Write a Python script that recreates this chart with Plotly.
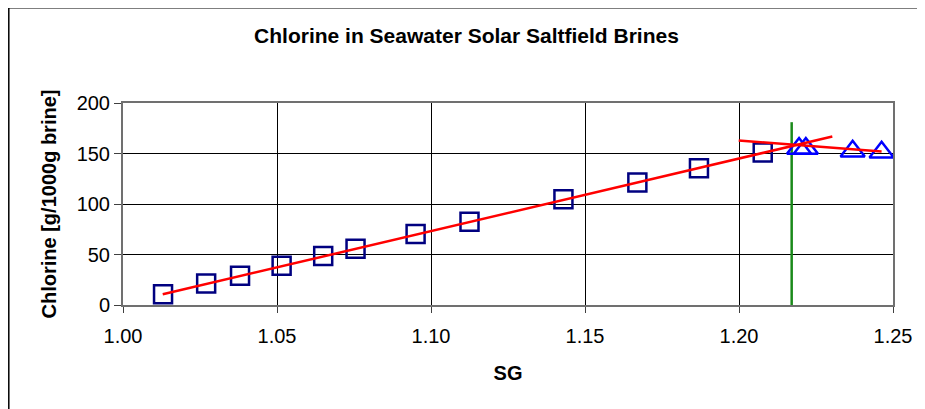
import plotly.graph_objects as go

# Data
sg_squares = [1.013, 1.027, 1.038, 1.0515, 1.065, 1.0755, 1.095, 1.1125, 1.143, 1.167, 1.187, 1.2077]
cl_squares = [10.6, 21.4, 29.0, 38.9, 48.4, 55.7, 70.2, 82.4, 104.8, 121.3, 135.4, 151.0]

sg_triangles = [1.2195, 1.2217, 1.2369, 1.2463]
cl_triangles = [155.0, 155.0, 152.3, 151.3]

fit1_sg = [1.0129, 1.2303]
fit1_cl = [10.6, 166.8]
fit2_sg = [1.1999, 1.2463]
fit2_cl = [162.8, 151.9]

green_sg = [1.2171, 1.2171]
green_cl = [0, 181]

x_ticks = [1.00, 1.05, 1.10, 1.15, 1.20, 1.25]
y_ticks = [0, 50, 100, 150, 200]

FONT = "Liberation Sans, Arial, sans-serif"

# Page body has an 8px margin; figure is 917x401 placed at (8,8)
W, H = 917, 401
L, T = 115, 95
PW, PH = 770, 202
R = W - L - PW
B = H - T - PH

fig = go.Figure()
fig.add_trace(go.Scatter(x=green_sg, y=green_cl, mode="lines",
                         line=dict(color="#1a8a1a", width=2.5), showlegend=False))
fig.add_trace(go.Scatter(x=sg_squares, y=cl_squares, mode="markers",
                         marker=dict(symbol="square-open", size=18,
                                     line=dict(color="#000080", width=2.5), color="#000080"),
                         showlegend=False))
fig.add_trace(go.Scatter(x=sg_triangles, y=cl_triangles, mode="markers",
                         marker=dict(symbol="triangle-up-open", size=21,
                                     line=dict(color="#0000FF", width=2.5), color="#0000FF"),
                         showlegend=False))
fig.add_trace(go.Scatter(x=fit1_sg, y=fit1_cl, mode="lines",
                         line=dict(color="#FF0000", width=2.5), showlegend=False))
fig.add_trace(go.Scatter(x=fit2_sg, y=fit2_cl, mode="lines",
                         line=dict(color="#FF0000", width=2.5), showlegend=False))

fig.update_layout(
    width=W, height=H,
    margin=dict(l=L, r=R, t=T, b=B),
    paper_bgcolor="white", plot_bgcolor="white",
    font=dict(family=FONT, color="black", size=20),
    title=dict(text="<b>Chlorine in Seawater Solar Saltfield Brines</b>",
               x=0.5, xanchor="center", y=1 - 28 / H, yanchor="middle",
               font=dict(size=21, family=FONT, color="black")),
    shapes=[dict(type="rect", xref="paper", yref="paper",
                 x0=(0.8 - L) / PW, x1=(W + 20 - L) / PW,
                 y0=(T + PH - H - 20) / PH, y1=(T + PH + 0.2) / PH,
                 line=dict(color="black", width=1.5), layer="below")],
)

fig.update_xaxes(
    range=[1.0, 1.25], tickvals=x_ticks, tickformat=".2f",
    showgrid=True, gridcolor="black", gridwidth=1,
    showline=True, linecolor="#707070", linewidth=2, mirror=True,
    ticks="outside", ticklen=6, tickcolor="#404040", tickwidth=1,
    ticklabelstandoff=6,
    zeroline=False, tickfont=dict(size=20),
    title=dict(text="<b>SG</b>", font=dict(size=20), standoff=20),
)
fig.update_yaxes(
    range=[0, 200], tickvals=y_ticks,
    showgrid=True, gridcolor="black", gridwidth=1,
    showline=True, linecolor="#707070", linewidth=2, mirror=True,
    ticks="outside", ticklen=7, tickcolor="#404040", tickwidth=1,
    zeroline=False, tickfont=dict(size=20),
    title=dict(text="<b>Chlorine [g/1000g brine]</b>", font=dict(size=20), standoff=15),
)

fig.write_html("out.html")
